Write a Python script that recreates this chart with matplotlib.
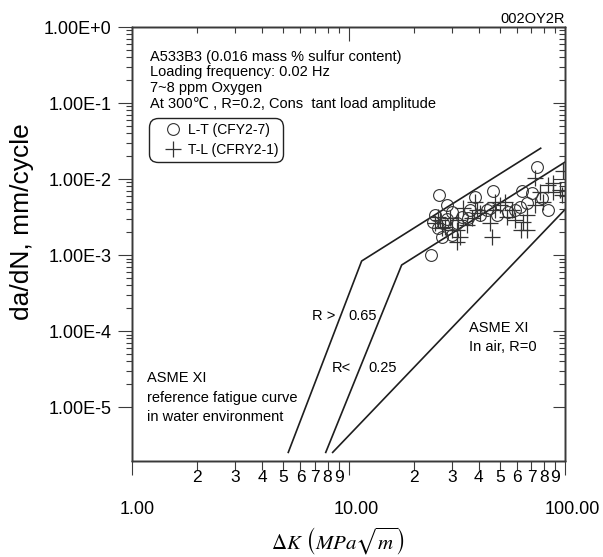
import matplotlib
matplotlib.use('Agg')
import matplotlib.pyplot as plt
import matplotlib.transforms as mtrans
from matplotlib.lines import Line2D
from matplotlib.ticker import NullFormatter

plt.rcParams['font.family'] = ['Liberation Sans', 'DejaVu Sans']
plt.rcParams['mathtext.fontset'] = 'stix'

# ---------------- data ----------------
# ASME XI reference curve in water, R > 0.65 (bilinear)
wet_hi_dk = [5.27, 11.5, 77.2]
wet_hi_dadn = [2.53e-6, 8.34e-4, 2.54e-2]
# ASME XI reference curve in water, R < 0.25 (bilinear)
wet_lo_dk = [7.85, 17.6, 100.0]
wet_lo_dadn = [2.53e-6, 7.39e-4, 1.67e-2]
# ASME XI in air, R = 0
air_dk = [8.45, 100.0]
air_dadn = [2.53e-6, 3.97e-3]

# L-T (CFY2-7) circles
lt_dk = [26.3, 74.0, 28.4, 38.4, 46.7, 63.1, 24.0, 83.7, 70.2, 66.5,
         78.0, 58.7, 54.7, 48.4, 43.5, 40.5, 36.4, 33.3, 35.7, 31.6,
         30.0, 25.1, 24.6, 26.0, 26.9, 30.0, 27.4, 28.4, 45.0, 62.0]
lt_dadn = [6.15e-3, 1.43e-2, 4.55e-3, 5.85e-3, 7.02e-3, 6.95e-3, 1.00e-3, 3.91e-3, 6.48e-3, 4.79e-3,
           5.57e-3, 3.91e-3, 3.71e-3, 3.36e-3, 3.91e-3, 3.36e-3, 3.91e-3, 3.19e-3, 3.04e-3, 2.61e-3,
           3.71e-3, 3.36e-3, 2.74e-3, 2.25e-3, 1.74e-3, 1.83e-3, 2.61e-3, 2.95e-3, 4.11e-3, 4.32e-3]

# T-L (CFRY2-1) pluses
tl_dk = [72.7, 98.2, 88.3, 94.8, 96.6, 83.7, 76.7, 79.4, 72.7, 52.8,
         47.5, 38.4, 33.9, 32.2, 29.4, 26.5, 26.9, 31.6, 32.7, 31.6,
         35.2, 37.1, 45.9, 45.0, 53.8, 58.7, 66.5, 64.2, 66.5, 62.5,
         47.5, 40.5, 25.1, 26.0, 27.9, 30.0, 88.3, 56.7, 50.1, 39.1]
tl_dadn = [1.02e-2, 1.29e-2, 8.78e-3, 7.17e-3, 6.15e-3, 8.34e-3, 6.81e-3, 5.03e-3, 4.55e-3, 5.03e-3,
           5.03e-3, 5.03e-3, 4.11e-3, 2.89e-3, 3.04e-3, 2.89e-3, 2.25e-3, 2.13e-3, 1.74e-3, 1.50e-3,
           2.48e-3, 3.04e-3, 1.74e-3, 2.61e-3, 3.19e-3, 2.89e-3, 2.13e-3, 2.74e-3, 3.36e-3, 2.13e-3,
           3.91e-3, 3.54e-3, 2.61e-3, 3.19e-3, 2.36e-3, 2.13e-3, 6.81e-3, 3.91e-3, 4.55e-3, 3.91e-3]

x_major = [1, 10, 100]
x_major_labels = ['1.00', '10.00', '100.00']
x_minor = [2, 3, 4, 5, 6, 7, 8, 9, 20, 30, 40, 50, 60, 70, 80, 90]
x_minor_labels = ['2', '3', '4', '5', '6', '7', '8', '9'] * 2
y_major = [1e0, 1e-1, 1e-2, 1e-3, 1e-4, 1e-5]
y_major_labels = ['1.00E+0', '1.00E-1', '1.00E-2', '1.00E-3', '1.00E-4', '1.00E-5']
y_minor = [m * 10.0 ** k for k in range(-5, 0) for m in range(2, 10)]

# ---------------- figure ----------------
W, H = 603, 557
fig = plt.figure(figsize=(W / 100, H / 100), dpi=100)
L, R, T, B = 132, 565, 27, 461
ax = fig.add_axes([L / W, 1 - B / H, (R - L) / W, (B - T) / H])

def fx(px):
    return px / W

def fy(py):
    return 1 - py / H

AX_C = '#3a3a3a'
LINE_C = '#1e1e1e'
MK_C = '#333333'

ax.set_xscale('log')
ax.set_yscale('log')
ax.set_xlim(1, 100)
ax.set_ylim(1.95e-6, 1)

ax.plot(wet_hi_dk, wet_hi_dadn, color=LINE_C, lw=1.2)
ax.plot(wet_lo_dk, wet_lo_dadn, color=LINE_C, lw=1.2)
ax.plot(air_dk, air_dadn, color=LINE_C, lw=1.2)

ax.plot(tl_dk, tl_dadn, linestyle='none', marker='+', ms=11, mew=0.9, color=MK_C)
ax.plot(lt_dk, lt_dadn, linestyle='none', marker='o', ms=8.5, mfc='none', mec=MK_C, mew=0.8)

for s in ax.spines.values():
    s.set_color(AX_C)
    s.set_linewidth(1.0)

# bottom ticks (outward)
ax.set_xticks(x_major, [''] * len(x_major))
ax.set_xticks(x_minor, x_minor_labels, minor=True)
ax.tick_params(axis='x', which='major', direction='out', length=10, width=0.8,
               color=AX_C, top=False)
ax.tick_params(axis='x', which='minor', direction='out', length=6.5, width=0.8,
               color=AX_C, labelsize=12.5, pad=0, top=False)
# left ticks (outward)
ax.set_yticks(y_major, y_major_labels)
ax.set_yticks(y_minor, minor=True)
ax.yaxis.set_minor_formatter(NullFormatter())
ax.tick_params(axis='y', which='major', direction='out', length=10, width=0.8,
               color=AX_C, labelsize=13, pad=5, right=False)
ax.tick_params(axis='y', which='minor', direction='out', length=4.3, width=0.8,
               color=AX_C, right=False)

# major x labels placed slightly to the right like the reference
blend = mtrans.blended_transform_factory(ax.transData, ax.transAxes)
for val, txt, dx in zip(x_major, x_major_labels, [5.5, 8, 7]):
    off = mtrans.ScaledTranslation(dx / 100, -49 / 100, fig.dpi_scale_trans)
    ax.text(val, 0, txt, transform=blend + off, ha='center', va='center', fontsize=13)

# top ticks (inward)
axt = ax.twiny()
axt.set_xscale('log')
axt.set_xlim(1, 100)
axt.set_xticks([10], [''])
axt.set_xticks(x_minor, [''] * len(x_minor), minor=True)
axt.tick_params(axis='x', which='major', direction='in', length=10, width=0.8,
                color=AX_C, labeltop=False, bottom=False)
axt.tick_params(axis='x', which='minor', direction='in', length=4.3, width=0.8,
                color=AX_C, labeltop=False, bottom=False)
# right ticks (inward)
axr = ax.twinx()
axr.set_yscale('log')
axr.set_ylim(1.95e-6, 1)
axr.set_yticks(y_major, [''] * len(y_major))
axr.set_yticks(y_minor, minor=True)
axr.yaxis.set_minor_formatter(NullFormatter())
axr.tick_params(axis='y', which='major', direction='in', length=9, width=0.8,
                color=AX_C, labelright=False, left=False)
axr.tick_params(axis='y', which='minor', direction='in', length=4.3, width=0.8,
                color=AX_C, labelright=False, left=False)
for a in (axt, axr):
    for s in a.spines.values():
        s.set_color(AX_C)
        s.set_linewidth(1.0)

# legend
handles = [Line2D([], [], linestyle='none', marker='o', ms=8.5, mfc='none', mec=MK_C, mew=0.8),
           Line2D([], [], linestyle='none', marker='+', ms=11, mew=0.9, color=MK_C)]
leg = ax.legend(handles, ['L-T (CFY2-7)', 'T-L (CFRY2-1)'], loc='upper left',
                bbox_to_anchor=(fx(149.3), fy(118.3)), bbox_transform=fig.transFigure,
                borderaxespad=0, borderpad=0.36, handlelength=2.7, handletextpad=-0.3,
                labelspacing=0.4, fontsize=10, fancybox=True, framealpha=1)
leg.get_frame().set_edgecolor('#222222')
leg.get_frame().set_linewidth(1.0)
leg.get_frame().set_boxstyle('round,pad=0,rounding_size=0.6')
leg.set_zorder(5)

# texts
FS = 10.5
header = ['A533B3 (0.016 mass % sulfur content)',
          'Loading frequency: 0.02 Hz',
          '7~8 ppm Oxygen',
          'At 300\u2103 , R=0.2, Cons  tant load amplitude']
for line, py in zip(header, [56.7, 71.7, 88.3, 104]):
    fig.text(fx(150), fy(py), line, fontsize=FS, va='center', ha='left')

fig.text(fx(565), fy(19), '002OY2R', fontsize=FS, va='center', ha='right')

fig.text(fx(312), fy(316), 'R >', fontsize=FS, va='center', ha='left')
fig.text(fx(348), fy(316), '0.65', fontsize=FS, va='center', ha='left')
fig.text(fx(332), fy(368), 'R<', fontsize=FS, va='center', ha='left')
fig.text(fx(368), fy(368), '0.25', fontsize=FS, va='center', ha='left')

for line, py in zip(['ASME XI', 'reference fatigue curve', 'in water environment'],
                    [378, 398, 417]):
    fig.text(fx(147), fy(py), line, fontsize=FS, va='center', ha='left')
for line, py in zip(['ASME XI', 'In air, R=0'], [328, 347]):
    fig.text(fx(469), fy(py), line, fontsize=FS, va='center', ha='left')

fig.text(fx(22), fy(222), 'da/dN, mm/cycle', fontsize=19, rotation=90,
         va='center', ha='center')
fig.text(fx(338), fy(541), r'$\Delta K\ \left(MPa\sqrt{m}\right)$', fontsize=15,
         va='center', ha='center')

fig.savefig('out.png', dpi=100)
